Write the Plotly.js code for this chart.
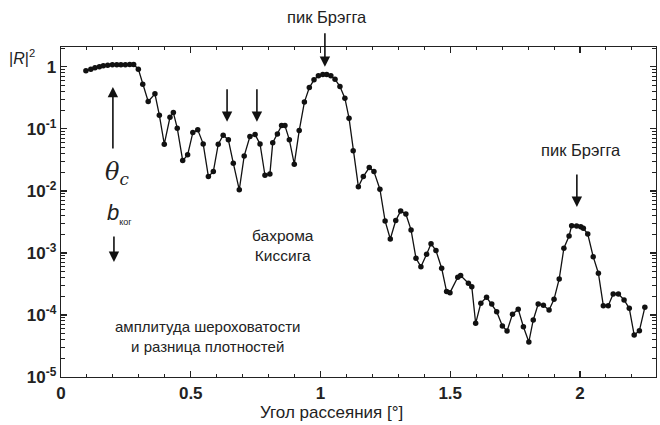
<!DOCTYPE html>
<html>
<head>
<meta charset="utf-8">
<script src="https://cdn.plot.ly/plotly-3.0.1.min.js"></script>
<style>
  html, body { margin: 0; padding: 0; background: #fff; }
  #chart { width: 660px; height: 425px; }
</style>
</head>
<body>
<div id="chart"></div>
<script>
// Scattering angle, degrees
const angle = [
  0.096, 0.115, 0.131, 0.148, 0.163, 0.180, 0.198, 0.215, 0.231, 0.248,
  0.265, 0.280, 0.298, 0.315, 0.336, 0.362, 0.379, 0.398, 0.420, 0.433,
  0.448, 0.469, 0.488, 0.508, 0.527, 0.548, 0.568, 0.587, 0.606, 0.625,
  0.645, 0.664, 0.687, 0.706, 0.728, 0.748, 0.767, 0.786, 0.805, 0.816,
  0.834, 0.850, 0.863, 0.880, 0.899, 0.918, 0.938, 0.957, 0.975, 0.992,
  1.009, 1.024, 1.040, 1.056, 1.075, 1.094, 1.110, 1.126, 1.146, 1.165,
  1.188, 1.206, 1.229, 1.249, 1.269, 1.290, 1.309, 1.329, 1.349, 1.368,
  1.387, 1.409, 1.426, 1.445, 1.467, 1.486, 1.499, 1.529, 1.540, 1.570,
  1.583, 1.598, 1.618, 1.640, 1.660, 1.679, 1.701, 1.719, 1.740, 1.762,
  1.782, 1.803, 1.820, 1.839, 1.859, 1.881, 1.900, 1.920, 1.938, 1.958,
  1.968, 1.987, 2.003, 2.013, 2.030, 2.051, 2.071, 2.090, 2.109, 2.128,
  2.148, 2.170, 2.190, 2.209, 2.229, 2.250
];

// Reflectivity |R|^2
const reflectivity = [
  0.862, 0.918, 0.963, 1.0, 1.04, 1.065, 1.077, 1.077, 1.077, 1.077,
  1.09, 1.09, 0.918, 0.526, 0.276, 0.367, 0.166, 0.0567, 0.154, 0.183,
  0.1026, 0.0308, 0.0381, 0.0871, 0.0964, 0.0573, 0.0170, 0.0205, 0.0567, 0.0791,
  0.0665, 0.028, 0.0104, 0.0367, 0.0751, 0.0809, 0.0573, 0.0179, 0.0188, 0.060,
  0.083, 0.113, 0.113, 0.0665, 0.027, 0.094, 0.270, 0.464, 0.617, 0.716,
  0.751, 0.751, 0.716, 0.634, 0.481, 0.313, 0.149, 0.0442, 0.0117, 0.0170,
  0.0238, 0.0205, 0.01065, 0.00328, 0.00168, 0.00332, 0.00476, 0.00425, 0.00235, 0.000822,
  0.000601, 0.000953, 0.00141, 0.00109, 0.000566, 0.000238, 0.000229, 0.000406, 0.000431, 0.000325,
  0.000286, 0.0000734, 0.000155, 0.000193, 0.000150, 0.000113, 0.0000665, 0.0000552, 0.000103, 0.000124,
  0.0000647, 0.0000367, 0.000083, 0.000150, 0.000143, 0.000120, 0.000179, 0.000381, 0.00119, 0.00188,
  0.00275, 0.00272, 0.00265, 0.0025, 0.00202, 0.000871, 0.000471, 0.000141, 0.000141, 0.000218,
  0.000218, 0.000175, 0.000128, 0.0000475, 0.0000558, 0.000133
];

// Axis ticks
const xTickVals = [0, 0.5, 1, 1.5, 2];
const xTickText = ['0', '0.5', '1', '1.5', '2'];
const yTickVals = [1e-5, 1e-4, 1e-3, 1e-2, 1e-1, 1];
const yTickText = ['10<sup>-5</sup>', '10<sup>-4</sup>', '10<sup>-3</sup>', '10<sup>-2</sup>', '10<sup>-1</sup>', '1'];

// minor log ticks: 2..9 within every decade
const yMinorVals = [];
for (let e = -5; e < 1; e++) {
  for (let d = 2; d <= 9; d++) yMinorVals.push(d * Math.pow(10, e));
}

const FONT = 'Liberation Sans, Arial, sans-serif';
const L = Math.log10;

const trace = {
  x: angle,
  y: reflectivity,
  type: 'scatter',
  mode: 'lines+markers',
  line: { color: '#111', width: 1.3 },
  marker: { color: '#111', size: 5.5 },
  hoverinfo: 'x+y'
};

function arrow(x, yHead, ayPx) {
  return {
    x: x, y: L(yHead), xref: 'x', yref: 'y',
    text: '', showarrow: true, arrowhead: 2, arrowsize: 1.3, arrowwidth: 1.6,
    arrowcolor: '#111', ax: 0, ay: ayPx, standoff: 0
  };
}

function label(x, yVal, text, size, font) {
  return {
    x: x, y: L(yVal), xref: 'x', yref: 'y', text: text, showarrow: false,
    xanchor: 'center', yanchor: 'middle',
    font: { family: font || FONT, size: size || 14, color: '#222' },
    align: 'center'
  };
}

function paperLabel(x, y, text, size) {
  return {
    x: x, y: y, xref: 'paper', yref: 'paper', text: text, showarrow: false,
    xanchor: 'center', yanchor: 'middle',
    font: { family: FONT, size: size, color: '#222' }
  };
}

const annotations = [
  // Bragg peak 1 (label above the frame)
  paperLabel(0.447, 1.091, 'пик Брэгга', 16.5),
  arrow(1.017, 1.0, -35),
  // Bragg peak 2
  label(2.004, Math.pow(10, -1.339), 'пик Брэгга', 16.5),
  arrow(1.988, Math.pow(10, -2.258), -34),
  // Kiessig fringe markers
  arrow(0.640, Math.pow(10, -0.887), -34),
  arrow(0.755, Math.pow(10, -0.887), -34),
  // critical angle
  arrow(0.200, Math.pow(10, -0.323), 63),
  label(0.214, Math.pow(10, -1.72), '<i>θ<sub>c</sub></i>', 24, 'DejaVu Serif, serif'),
  label(0.225, Math.pow(10, -2.371), '<i>b</i><sub><span style="font-size:9px">ког</span></sub>', 22),
  arrow(0.204, Math.pow(10, -3.145), -27),
  // text blocks
  label(0.855, Math.pow(10, -2.887), 'бахрома<br>Киссига', 15.5),
  label(0.566, Math.pow(10, -4.355), 'амплитуда шероховатости<br>и разница плотностей', 15),
  // axis captions
  paperLabel(-0.066, 0.97, '|<i>R</i>|<sup>2</sup>', 16),
  paperLabel(0.455, -0.109, 'Угол рассеяния [°]', 17)
];

const layout = {
  width: 660, height: 425,
  margin: { l: 61, r: 4, t: 47, b: 48 },
  paper_bgcolor: '#fff', plot_bgcolor: '#fff',
  showlegend: false,
  xaxis: {
    range: [0, 2.293],
    tickmode: 'array', tickvals: xTickVals, ticktext: xTickText,
    ticks: 'inside', ticklen: 6, tickwidth: 1.2, tickcolor: '#222',
    minor: { ticks: 'inside', dtick: 0.1, ticklen: 3, tickwidth: 1, tickcolor: '#222', showgrid: false },
    showline: true, linecolor: '#222', linewidth: 1.3, mirror: 'ticks',
    showgrid: false, zeroline: false,
    tickfont: { family: FONT, size: 17, color: '#222', weight: 'bold' }
  },
  yaxis: {
    type: 'log', range: [-5, 0.32],
    tickmode: 'array', tickvals: yTickVals, ticktext: yTickText,
    ticks: 'inside', ticklen: 6, tickwidth: 1.2, tickcolor: '#222',
    minor: { ticks: 'inside', tickmode: 'array', tickvals: yMinorVals, ticklen: 4, tickwidth: 1, tickcolor: '#222', showgrid: false },
    showline: true, linecolor: '#222', linewidth: 1.3, mirror: 'ticks',
    showgrid: false, zeroline: false,
    tickfont: { family: FONT, size: 17, color: '#222', weight: 'bold' }
  },
  annotations: annotations
};

Plotly.newPlot('chart', [trace], layout, { displayModeBar: false, staticPlot: true });
</script>
</body>
</html>
